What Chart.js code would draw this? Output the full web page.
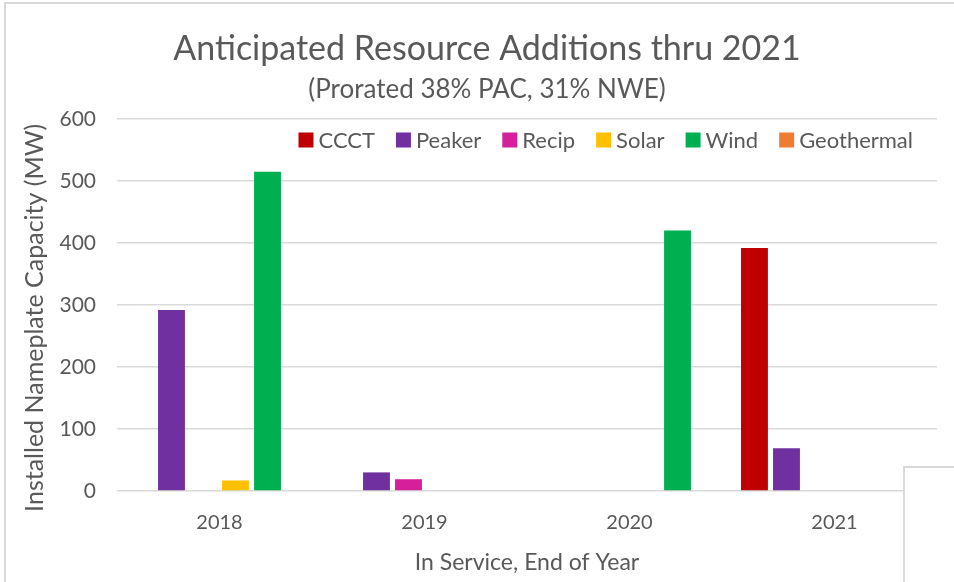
<!DOCTYPE html>
<html lang="en">
<head>
  <meta charset="UTF-8">
  <title>Anticipated Resource Additions thru 2021</title>
  <script src="https://cdn.jsdelivr.net/npm/chart.js@4.4.0/dist/chart.umd.min.js"></script>
  <style>
    html, body { margin: 0; padding: 0; background: #fff; }
    .wrap { position: relative; width: 954px; height: 582px; overflow: hidden; }
    .frame { position: absolute; left: 4px; top: 2px; width: 1000px; height: 1000px;
             border-left: 2px solid #d9d9d9; border-top: 2px solid #d9d9d9; pointer-events: none; }
    .corner { position: absolute; left: 903px; top: 466px; width: 100px; height: 200px;
              background: #fff; border-left: 2px solid #d9d9d9; border-top: 2px solid #d9d9d9; }
    canvas { position: absolute; left: 0; top: 0; }
  </style>
</head>
<body>
  <div class="wrap">
    <canvas id="chart" width="954" height="582"></canvas>
    <div class="frame"></div>
    <div class="corner"></div>
  </div>

  <script>
    // 年ごとのカテゴリ
    const years = ['2018', '2019', '2020', '2021'];

    // 各電源の値 (MW)
    const ccct = [0, 0, 0, 392];
    const peaker = [292, 30, 0, 69];
    const recip = [0, 19, 0, 0];
    const solar = [17, 0, 0, 0];
    const wind = [515, 0, 420, 0];
    const geothermal = [0, 0, 0, 0];

    const yTicks = [0, 100, 200, 300, 400, 500, 600];

    const fontFamily = 'Lato, "Open Sans", sans-serif';
    const textColor = '#595959';

    const ctx = document.getElementById('chart').getContext('2d');

    // 凡例をプロット領域の右上に描く
    const insideLegend = {
      id: 'insideLegend',
      afterDraw(chart) {
        const c = chart.ctx;
        const right = 913, cy = 140, box = 15, gap = 5, itemGap = 21;
        c.save();
        c.font = '22px ' + fontFamily;
        c.textBaseline = 'middle';
        c.textAlign = 'left';
        const items = chart.data.datasets.map(ds => ({
          text: ds.label, color: ds.backgroundColor, w: c.measureText(ds.label).width
        }));
        const total = items.reduce((s, it) => s + box + gap + it.w, 0) + itemGap * (items.length - 1);
        let x = right - total;
        items.forEach(it => {
          c.fillStyle = it.color;
          c.fillRect(x, cy - box / 2, box, box);
          c.fillStyle = textColor;
          c.fillText(it.text, x + box + gap, cy + 1);
          x += box + gap + it.w + itemGap;
        });
        c.restore();
      }
    };

    const data = {
      labels: years,
      datasets: [
        { label: 'CCCT', data: ccct, backgroundColor: '#c00000' },
        { label: 'Peaker', data: peaker, backgroundColor: '#7030a0' },
        { label: 'Recip', data: recip, backgroundColor: '#d61f9a' },
        { label: 'Solar', data: solar, backgroundColor: '#ffc000' },
        { label: 'Wind', data: wind, backgroundColor: '#00b050' },
        { label: 'Geothermal', data: geothermal, backgroundColor: '#ed7d31' }
      ]
    };

    const config = {
      type: 'bar',
      data: data,
      plugins: [insideLegend],
      options: {
        responsive: false,
        animation: false,
        datasets: {
          bar: { categoryPercentage: 0.937, barPercentage: 0.84 }
        },
        // タイトルを右寄りにするため右側は負のパディング＋空の右軸
        layout: { padding: { left: 0, right: -20, top: 0, bottom: 0 } },
        plugins: {
          title: {
            display: true,
            text: 'Anticipated Resource Additions thru 2021',
            color: textColor,
            font: { family: fontFamily, size: 34, weight: 'normal' },
            padding: { top: 29, bottom: 4 }
          },
          subtitle: {
            display: true,
            text: '(Prorated 38% PAC, 31% NWE)',
            color: textColor,
            font: { family: fontFamily, size: 26, weight: 'normal' },
            padding: { top: 0, bottom: 14 }
          },
          legend: { display: false },
          tooltip: { enabled: false }
        },
        scales: {
          x: {
            afterFit: (axis) => { axis.height = 91; },
            grid: { display: false },
            border: { display: false },
            ticks: {
              color: textColor,
              font: { family: fontFamily, size: 20 },
              padding: 12
            },
            title: {
              display: true,
              text: 'In Service, End of Year',
              color: textColor,
              font: { family: fontFamily, size: 23 },
              padding: { top: 6, bottom: 6 }
            }
          },
          y: {
            min: 0,
            max: 600,
            afterFit: (axis) => { axis.width = 117; },
            afterBuildTicks: (axis) => {
              axis.ticks = yTicks.map(v => ({ value: v }));
            },
            grid: { color: '#d9d9d9', lineWidth: 1.5, drawTicks: false },
            border: { display: false },
            ticks: {
              color: textColor,
              font: { family: fontFamily, size: 21 },
              padding: 21
            },
            title: {
              display: true,
              text: 'Installed Nameplate Capacity (MW)    ',
              color: textColor,
              font: { family: fontFamily, size: 25 },
              padding: { top: 20, bottom: 0 }
            }
          },
          yPad: {
            type: 'linear',
            position: 'right',
            min: 0,
            max: 600,
            afterFit: (axis) => { axis.width = 37; },
            grid: { display: false },
            border: { display: false },
            ticks: { display: false }
          }
        }
      }
    };

    new Chart(ctx, config);
  </script>
</body>
</html>
